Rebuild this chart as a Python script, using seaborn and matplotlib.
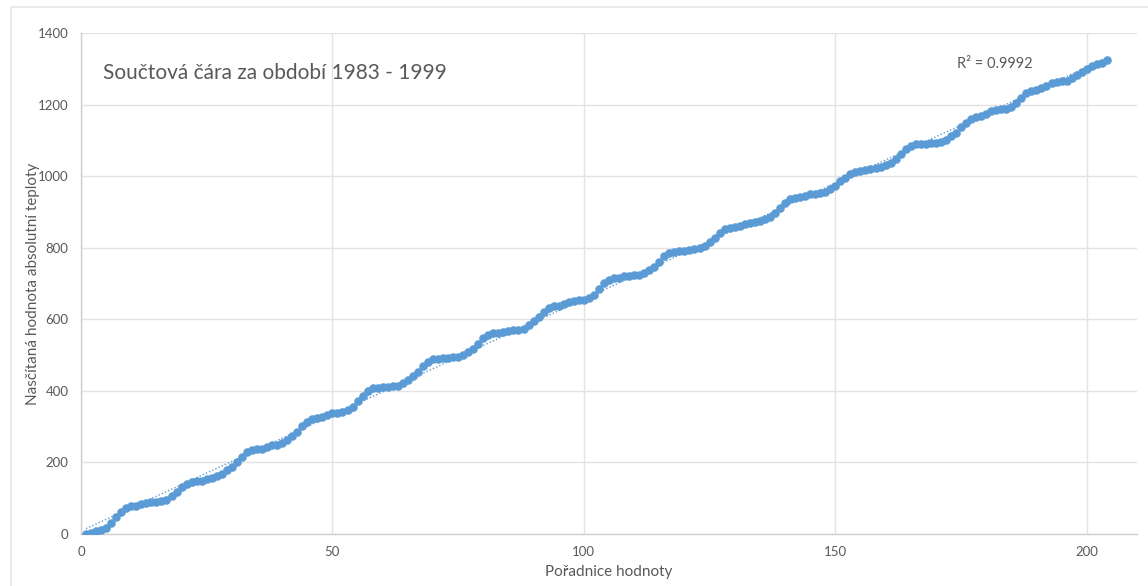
import matplotlib
matplotlib.use("Agg")
import matplotlib.pyplot as plt
from matplotlib.patches import Rectangle
import numpy as np
import pandas as pd
import seaborn as sns

# Cumulative absolute temperature, one row per year (1983 - 1999), monthly values
year_1983 = [0, 4, 8, 12, 18, 30, 47, 62, 74, 79, 79, 84]
year_1984 = [87, 90, 90, 93, 95, 106, 118, 132, 141, 146, 148, 148]
year_1985 = [153, 157, 162, 169, 179, 188, 202, 216, 230, 236, 237, 238]
year_1986 = [244, 249, 250, 253, 263, 274, 286, 302, 314, 320, 323, 328]
year_1987 = [332, 337, 339, 341, 346, 356, 372, 386, 400, 407, 409, 410]
year_1988 = [411, 413, 414, 421, 430, 441, 453, 469, 481, 488, 490, 491]
year_1989 = [492, 494, 496, 500, 509, 518, 532, 547, 556, 561, 563, 565]
year_1990 = [568, 570, 571, 574, 584, 596, 607, 621, 631, 636, 638, 643]
year_1991 = [648, 650, 653, 655, 660, 669, 685, 701, 711, 714, 716, 720]
year_1992 = [721, 723, 724, 729, 737, 746, 759, 776, 786, 789, 790, 792]
year_1993 = [794, 796, 799, 804, 815, 828, 842, 851, 856, 859, 862, 865]
year_1994 = [868, 871, 876, 880, 886, 896, 910, 924, 935, 940, 942, 944]
year_1995 = [950, 951, 953, 956, 963, 972, 987, 996, 1005, 1012, 1014, 1018]
year_1996 = [1021, 1024, 1026, 1030, 1037, 1049, 1063, 1077, 1084, 1089, 1090, 1091]
year_1997 = [1092, 1093, 1096, 1102, 1111, 1121, 1136, 1149, 1161, 1166, 1168, 1175]
year_1998 = [1182, 1186, 1188, 1189, 1194, 1203, 1217, 1231, 1238, 1240, 1245, 1251]
year_1999 = [1259, 1263, 1266, 1266, 1273, 1282, 1291, 1300, 1309, 1312, 1316, 1324]

cumulative = (year_1983 + year_1984 + year_1985 + year_1986 + year_1987 + year_1988
              + year_1989 + year_1990 + year_1991 + year_1992 + year_1993 + year_1994
              + year_1995 + year_1996 + year_1997 + year_1998 + year_1999)
order = list(range(1, len(cumulative) + 1))

title_text = "Součtová čára za období 1983 - 1999"
r2_text = "R² = 0.9992"
x_label = "Pořadnice hodnoty"
y_label = "Nasčítaná hodnota absolutní teploty"
x_ticks = [0, 50, 100, 150, 200]
y_ticks = [0, 200, 400, 600, 800, 1000, 1200, 1400]

df = pd.DataFrame({"poradi": order, "soucet": cumulative})

sns.set_theme(style="white")
plt.rcParams["font.family"] = ["Lato", "DejaVu Sans"]

blue = "#5B9BD5"
text_gray = "#595959"
grid_gray = "#E3E3E3"

fig = plt.figure(figsize=(11.48, 5.86), dpi=100)
fig.patch.set_facecolor("white")
# light frame around the chart area
fig.patches.append(Rectangle((11 / 1148, -0.01), 1.02, 1 - 7 / 586 + 0.01,
                             transform=fig.transFigure, fill=False,
                             edgecolor="#E6E6E6", linewidth=1.2))

ax = fig.add_axes([81 / 1148, 1 - 534 / 586, (1137 - 81) / 1148, (534 - 33) / 586])

# linear trend line (dotted)
sns.regplot(data=df, x="poradi", y="soucet", ax=ax, scatter=False, ci=None,
            line_kws={"color": blue, "linestyle": (0, (1, 1.5)), "linewidth": 1.0})

sns.scatterplot(data=df, x="poradi", y="soucet", ax=ax, color=blue, s=34,
                edgecolor=blue, linewidth=0.3, zorder=3)

ax.set_xlim(0, 210)
ax.set_ylim(0, 1400)
ax.set_xticks(x_ticks)
ax.set_yticks(y_ticks)
ax.grid(True, color=grid_gray, linewidth=1.0)
ax.set_axisbelow(True)
for side in ["top", "right"]:
    ax.spines[side].set_visible(False)
for side in ["left", "bottom"]:
    ax.spines[side].set_color("#D0D0D0")
    ax.spines[side].set_linewidth(1.0)
ax.tick_params(axis="both", length=0, labelsize=9.5, labelcolor=text_gray, pad=9)

ax.set_xlabel(x_label, fontsize=11, color=text_gray)
ax.set_ylabel(y_label, fontsize=11, color=text_gray)
ax.xaxis.set_label_coords(0.5, -0.062)
ax.yaxis.set_label_coords(-0.0385, 0.5)

ax.text(4.4, 1288, title_text, fontsize=15, color=text_gray, va="center", ha="left")
ax.text(174.3, 1313, r2_text, fontsize=10.5, color=text_gray, va="center", ha="left")

fig.savefig("out.png", dpi=100)
